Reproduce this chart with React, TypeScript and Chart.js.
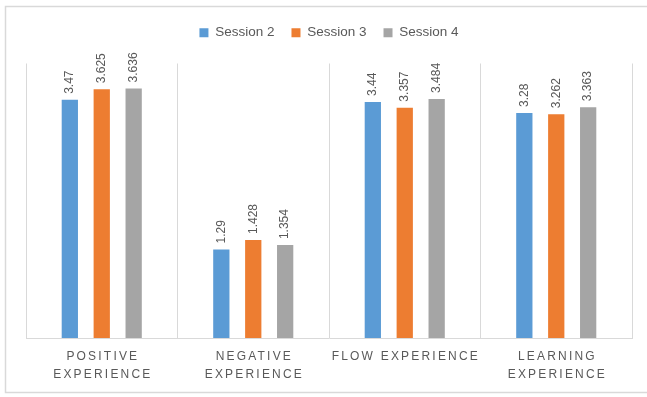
import React, { useEffect, useRef } from "react";
import { Chart, registerables } from "chart.js";

Chart.register(...registerables);

const categories: string[][] = [
  ["POSITIVE", "EXPERIENCE"],
  ["NEGATIVE", "EXPERIENCE"],
  ["FLOW EXPERIENCE"],
  ["LEARNING", "EXPERIENCE"],
];
const seriesNames = ["Session 2", "Session 3", "Session 4"];
const session2 = [3.47, 1.29, 3.44, 3.28];
const session3 = [3.625, 1.428, 3.357, 3.262];
const session4 = [3.636, 1.354, 3.484, 3.363];
const seriesColors = ["#5B9BD5", "#ED7D31", "#A5A5A5"];

const FONT = "'Liberation Sans', Arial, sans-serif";
const TEXT = "#595959";

const borderPlugin = {
  id: "outerBorder",
  beforeDraw(chart: any) {
    const ctx = chart.ctx;
    ctx.save();
    ctx.fillStyle = "#ffffff";
    ctx.fillRect(0, 0, chart.width, chart.height);
    ctx.strokeStyle = "#d9d9d9";
    ctx.lineWidth = 1.5;
    ctx.strokeRect(5.5, 6.5, 700, 386);
    ctx.restore();
  },
};

const labelPlugin = {
  id: "valueLabels",
  afterDatasetsDraw(chart: any) {
    const ctx = chart.ctx;
    ctx.save();
    ctx.font = `12px ${FONT}`;
    ctx.fillStyle = TEXT;
    ctx.textAlign = "left";
    ctx.textBaseline = "middle";
    chart.data.datasets.forEach((ds: any, di: number) => {
      const meta = chart.getDatasetMeta(di);
      meta.data.forEach((bar: any, i: number) => {
        ctx.save();
        ctx.translate(bar.x, bar.y - 6);
        ctx.rotate(-Math.PI / 2);
        ctx.fillText(String(ds.data[i]), 0, 0);
        ctx.restore();
      });
    });
    ctx.restore();
  },
};

const xLabelPlugin = {
  id: "xLabels",
  afterDraw(chart: any) {
    const ctx = chart.ctx;
    const xs = chart.scales.x;
    const bottom = chart.chartArea.bottom;
    ctx.save();
    ctx.font = `12px ${FONT}`;
    ctx.fillStyle = TEXT;
    ctx.textAlign = "center";
    ctx.textBaseline = "middle";
    const sp = 2.2;
    (ctx as any).letterSpacing = `${sp}px`;
    categories.forEach((lines, i) => {
      const cx = xs.getPixelForValue(i);
      lines.forEach((line, j) => {
        ctx.fillText(line, cx + sp / 2, bottom + 18.5 + j * 18.5);
      });
    });
    ctx.restore();
  },
};

export default function App() {
  const ref = useRef<HTMLCanvasElement>(null);
  useEffect(() => {
    if (!ref.current) return;
    const datasets = [session2, session3, session4].map((d, k) => ({
      label: seriesNames[k],
      data: d,
      backgroundColor: seriesColors[k],
      borderWidth: 0,
      categoryPercentage: 0.632,
      barPercentage: 0.51,
    }));
    const chart = new Chart(ref.current, {
      type: "bar",
      data: { labels: categories.map((c) => c.join(" ")), datasets },
      options: {
        animation: false,
        responsive: false,
        devicePixelRatio: 1,
        layout: { padding: { left: 26, right: 15, top: 9, bottom: 59 } },
        plugins: {
          legend: {
            display: true,
            position: "top",
            labels: {
              boxWidth: 9,
              boxHeight: 9,
              padding: 17,
              color: TEXT,
              font: { family: FONT, size: 13.5 },
            },
          },
          subtitle: {
            display: true,
            text: "",
            position: "top",
            weight: 500,
            font: { size: 1, lineHeight: 1 },
            padding: { top: 0, bottom: 13 },
          },
          tooltip: { enabled: false },
        },
        scales: {
          x: {
            grid: { display: true, color: "#d9d9d9", lineWidth: 1, drawTicks: false, offset: true },
            border: { display: true, color: "#d9d9d9", width: 1 },
            ticks: { display: false },
          },
          y: {
            display: false,
            min: 0,
            max: 4,
          },
        },
      },
      plugins: [borderPlugin, labelPlugin, xLabelPlugin],
    });
    return () => chart.destroy();
  }, []);
  return (
    <div style={{ position: "fixed", left: 0, top: 0, width: 647, height: 397 }}>
      <canvas ref={ref} width={647} height={397} style={{ display: "block" }} />
    </div>
  );
}
